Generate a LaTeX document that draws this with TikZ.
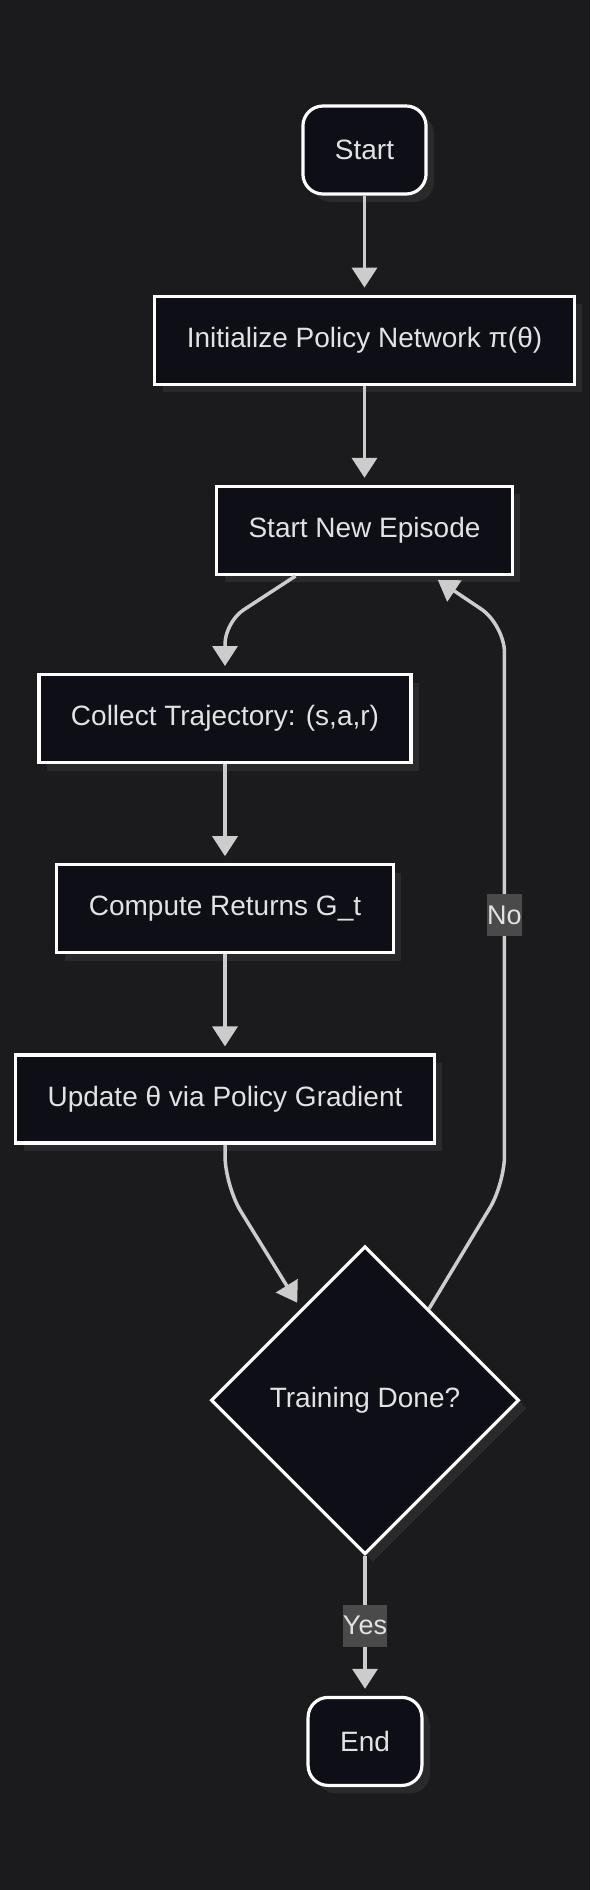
\documentclass[tikz,border=0pt]{standalone}
\usepackage{fontspec}
\setmainfont{Liberation Sans}
\usetikzlibrary{arrows.meta, positioning, shapes.geometric, shadows}
\definecolor{pagebg}{RGB}{27,27,29}
\definecolor{nodefill}{RGB}{13,14,22}
\definecolor{shadowgrey}{RGB}{42,42,44}
\definecolor{edgegrey}{RGB}{204,204,204}
\definecolor{labelgrey}{RGB}{74,74,74}
\definecolor{textgrey}{RGB}{226,226,226}

\begin{document}
\begin{tikzpicture}[
  stepbox/.style={draw=white, line width=3.2pt, fill=nodefill, rectangle,
    minimum height=88pt, inner xsep=32pt, text=textgrey,
    font=\fontsize{28}{34}\selectfont,
    drop shadow={shadow xshift=8pt, shadow yshift=-8pt, fill=shadowgrey, opacity=1}},
  termbox/.style={stepbox, rounded corners=20pt},
  decisionbox/.style={stepbox, diamond, aspect=1,
    minimum width=308pt, minimum height=308pt},
  flow/.style={-{Triangle[length=20pt, width=25pt]}, line width=3.5pt,
    edgegrey, shorten >=7pt},
  edgelabel/.style={fill=labelgrey, text=textgrey, sharp corners, inner xsep=0pt,
    minimum height=42pt, font=\fontsize{27}{33}\selectfont},
  node distance=99pt
]
\fill[pagebg] (0,0) rectangle (590pt,-1890pt);

\node[termbox] (start) at (364.5pt,-150pt) {Start};
\node[stepbox, below=of start] (init) {Initialize Policy Network π(θ)};
\node[stepbox, below=of init] (episode) {Start New Episode};
\node[stepbox, below=97pt of episode, xshift=-139.5pt] (collect)
  {Collect Trajectory: (s,a,r)};
\node[stepbox, below=of collect] (returns) {Compute Returns G\_t};
\node[stepbox, below=of returns] (update) {Update θ via Policy Gradient};
\node[decisionbox, below=100pt of update, xshift=140pt] (done) {Training Done?};
\node[termbox, below=140pt of done] (end) {End};

\draw[flow] (start) -- (init);
\draw[flow] (init) -- (episode);
\draw[flow, rounded corners=22pt] ([xshift=-69pt]episode.south)
  -- ([yshift=51pt]collect.north) -- (collect.north);
\draw[flow] (collect) -- (returns);
\draw[flow] (returns) -- (update);
\draw[flow, rounded corners=30pt] (update.south)
  -- ([yshift=-41pt]update.south) -- (done.125);
\draw[flow, rounded corners=28pt] (done.55) -- ++(75.4pt,125pt)
  -- ++(0,559pt) node[edgelabel, pos=0.48] {No}
  -- ([xshift=67.5pt]episode.south);
\draw[flow] (done) -- node[edgelabel] {Yes} (end);
\end{tikzpicture}
\end{document}
